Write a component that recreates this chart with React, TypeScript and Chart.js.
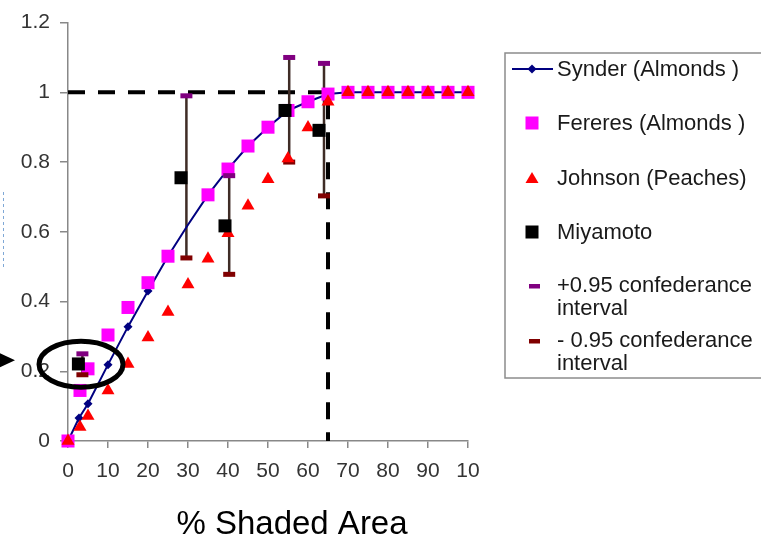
import React, { useEffect, useRef } from "react";
import { Chart, registerables } from "chart.js";

Chart.register(...registerables);

// ---- tick labels ----
const xTickLabels = ["0", "10", "20", "30", "40", "50", "60", "70", "80", "90", "10"];
const yTickLabels = ["0", "0.2", "0.4", "0.6", "0.8", "1", "1.2"];

// ---- series ----
const snyderX = [0, 2.75, 5, 10, 15, 20, 25, 30, 35, 40, 45, 50, 55, 60, 65, 70, 75, 80, 85, 90, 95, 100];
const snyderY = [0, 0.066, 0.107, 0.219, 0.328, 0.43, 0.53, 0.62, 0.706, 0.78, 0.846, 0.9, 0.948, 0.973, 0.995, 1, 1, 1, 1, 1, 1, 1];

const fereresX = [0, 3, 5, 10, 15, 20, 25, 35, 40, 45, 50, 55, 60, 65, 70, 75, 80, 85, 90, 95, 100];
const fereresY = [0, 0.145, 0.207, 0.304, 0.383, 0.454, 0.53, 0.706, 0.78, 0.846, 0.9, 0.948, 0.973, 0.995, 1, 1, 1, 1, 1, 1, 1];

const johnsonX = [0, 3, 5, 10, 15, 20, 25, 30, 35, 40, 45, 50, 55, 60, 65, 70, 75, 80, 85, 90, 95, 100];
const johnsonY = [0, 0.04, 0.072, 0.145, 0.221, 0.297, 0.37, 0.449, 0.523, 0.596, 0.675, 0.751, 0.81, 0.899, 0.973, 1, 1, 1, 1, 1, 1, 1];

const miyamotoX = [2.6, 28.25, 39.25, 54.25, 62.75];
const miyamotoY = [0.221, 0.755, 0.617, 0.948, 0.891];

const ciX = [3.6, 29.6, 40.3, 55.3, 64];
const ciUpper = [0.25, 0.99, 0.761, 1.1, 1.083];
const ciLower = [0.19, 0.525, 0.478, 0.8, 0.703];

const refLineX = [0, 65, 65];
const refLineY = [1, 1, 0];

// highlighted point (ellipse annotation centre)
const highlightX = 3.25;
const highlightY = 0.22;

const FONT = '"Liberation Sans", Arial, Helvetica, sans-serif';

const pts = (xs: number[], ys: (number | null)[]) => xs.map((x, i) => ({ x, y: ys[i] }));

export default function App() {
  const ref = useRef<HTMLCanvasElement>(null);

  useEffect(() => {
    if (!ref.current) return;
    const errorBars: { x: number; y: number | null }[] = [];
    ciX.forEach((x, i) => {
      errorBars.push({ x, y: ciUpper[i] }, { x, y: ciLower[i] }, { x, y: null });
    });

    const overlay = {
      id: "overlay",
      afterDraw(chart: any) {
        const ctx = chart.ctx as CanvasRenderingContext2D;
        const xs = chart.scales.x;
        const ys = chart.scales.y;
        ctx.save();

        // faint remnant of y title
        ctx.strokeStyle = "#7fa8d6";
        ctx.lineWidth = 1;
        ctx.setLineDash([3, 3]);
        ctx.beginPath();
        ctx.moveTo(3.5, 192);
        ctx.lineTo(3.5, 268);
        ctx.stroke();
        ctx.setLineDash([]);

        // ellipse highlight
        const cx = xs.getPixelForValue(highlightX);
        const cy = ys.getPixelForValue(highlightY);
        ctx.strokeStyle = "#000";
        ctx.lineWidth = 5;
        ctx.beginPath();
        ctx.ellipse(cx, cy, 42, 23, 0, 0, Math.PI * 2);
        ctx.stroke();

        // arrow head at left
        ctx.fillStyle = "#000";
        ctx.beginPath();
        ctx.moveTo(cx - 81, cy - 11);
        ctx.lineTo(cx - 66, cy - 4);
        ctx.lineTo(cx - 81, cy + 3);
        ctx.closePath();
        ctx.fill();

        // x axis title
        ctx.fillStyle = "#000";
        ctx.font = `33px ${FONT}`;
        ctx.textAlign = "center";
        ctx.textBaseline = "alphabetic";
        ctx.fillText("% Shaded Area", 292, 534);

        // legend
        const lx = 505, ly = 53, lb = 378;
        ctx.strokeStyle = "#8c8c8c";
        ctx.lineWidth = 1.5;
        ctx.strokeRect(lx, ly, 300, lb - ly);

        ctx.font = `22px ${FONT}`;
        ctx.textAlign = "left";
        ctx.textBaseline = "middle";
        const tx = 557;
        const mx = 532;

        // Synder
        ctx.strokeStyle = "#000080";
        ctx.lineWidth = 2;
        ctx.beginPath();
        ctx.moveTo(512, 69);
        ctx.lineTo(553, 69);
        ctx.stroke();
        ctx.fillStyle = "#000080";
        ctx.beginPath();
        ctx.moveTo(mx, 64.5);
        ctx.lineTo(mx + 4.5, 69);
        ctx.lineTo(mx, 73.5);
        ctx.lineTo(mx - 4.5, 69);
        ctx.closePath();
        ctx.fill();

        // Fereres
        ctx.fillStyle = "#ff00ff";
        ctx.fillRect(mx - 6.5, 123 - 6.5, 13, 13);
        // Johnson
        ctx.fillStyle = "#ff0000";
        ctx.beginPath();
        ctx.moveTo(mx, 172);
        ctx.lineTo(mx + 6.5, 183);
        ctx.lineTo(mx - 6.5, 183);
        ctx.closePath();
        ctx.fill();
        // Miyamoto
        ctx.fillStyle = "#000";
        ctx.fillRect(mx - 6.5, 232 - 6.5, 13, 13);
        // CI dashes
        ctx.fillStyle = "#800080";
        ctx.fillRect(529, 284, 11, 4.5);
        ctx.fillStyle = "#800000";
        ctx.fillRect(529, 339, 11, 4.5);

        ctx.fillStyle = "#1a1a1a";
        ctx.fillText("Synder (Almonds )", tx, 70);
        ctx.fillText("Fereres (Almonds )", tx, 124);
        ctx.fillText("Johnson (Peaches)", tx, 179);
        ctx.fillText("Miyamoto", tx, 233);
        ctx.fillText("+0.95 confederance", tx, 286);
        ctx.fillText("interval", tx, 309);
        ctx.fillText("- 0.95 confederance", tx, 341);
        ctx.fillText("interval", tx, 364);

        ctx.restore();
      },
    };

    const chart = new Chart(ref.current, {
      type: "scatter",
      data: {
        datasets: [
          {
            label: "Miyamoto",
            data: pts(miyamotoX, miyamotoY),
            pointStyle: "rect",
            pointRadius: 9.2,
            backgroundColor: "#000",
            borderColor: "#000",
            borderWidth: 0,
            order: 0,
            clip: false,
          } as any,
          {
            label: "Johnson (Peaches)",
            data: pts(johnsonX, johnsonY),
            pointStyle: "triangle",
            pointRadius: 7.5,
            backgroundColor: "#ff0000",
            borderColor: "#ff0000",
            borderWidth: 0,
            order: 1,
            clip: false,
          },
          {
            label: "+0.95 confederance interval",
            data: pts(ciX, ciUpper),
            pointStyle: "line",
            pointRadius: 6,
            borderColor: "#800080",
            backgroundColor: "#800080",
            pointBorderWidth: 5,
            order: 2,
            clip: false,
          },
          {
            label: "- 0.95 confederance interval",
            data: pts(ciX, ciLower),
            pointStyle: "line",
            pointRadius: 6,
            borderColor: "#800000",
            backgroundColor: "#800000",
            pointBorderWidth: 5,
            order: 2,
            clip: false,
          },
          {
            label: "Fereres (Almonds )",
            data: pts(fereresX, fereresY),
            pointStyle: "rect",
            pointRadius: 9.2,
            backgroundColor: "#ff00ff",
            borderColor: "#ff00ff",
            borderWidth: 0,
            order: 3,
            clip: false,
          },
          {
            label: "Synder (Almonds )",
            data: pts(snyderX, snyderY),
            showLine: true,
            borderColor: "#000080",
            backgroundColor: "#000080",
            borderWidth: 2,
            pointStyle: "rectRot",
            pointRadius: (c: any) => (snyderX[c.dataIndex] === 30 ? 0 : 4.5),
            pointBorderWidth: 0,
            order: 4,
            clip: false,
          },
          {
            label: "error bars",
            data: errorBars,
            showLine: true,
            spanGaps: false,
            borderColor: "#3f2c26",
            borderWidth: 2.5,
            pointRadius: 0,
            order: 5,
            clip: false,
          },
          {
            label: "reference",
            data: pts(refLineX, refLineY),
            showLine: true,
            borderColor: "#000",
            borderWidth: 4,
            borderDash: [17, 13],
            borderCapStyle: "butt",
            pointRadius: 0,
            order: 6,
            clip: false,
          },
        ] as any,
      },
      options: {
        animation: false,
        responsive: false,
        events: [],
        layout: { padding: { left: 0, top: 20, right: 293, bottom: 0 } },
        plugins: { legend: { display: false }, tooltip: { enabled: false } },
        scales: {
          x: {
            type: "linear",
            min: 0,
            max: 100,
            afterFit: (s: any) => {
              s.height = 98;
            },
            ticks: {
              stepSize: 10,
              autoSkip: false,
              maxRotation: 0,
              padding: 11,
              color: "#333",
              font: { family: FONT, size: 21 },
              callback: (v: any) => xTickLabels[Math.round(Number(v) / 10)],
            },
            grid: { drawOnChartArea: false, drawTicks: true, tickLength: 7, color: "#888", lineWidth: 1.5 },
            border: { display: true, color: "#888", width: 1.5 },
          },
          y: {
            type: "linear",
            min: 0,
            max: 1.2,
            afterFit: (s: any) => {
              s.width = 68;
            },
            ticks: {
              stepSize: 0.2,
              padding: 10,
              color: "#333",
              font: { family: FONT, size: 21 },
              callback: (v: any) => yTickLabels[Math.round(Number(v) / 0.2)],
            },
            grid: { drawOnChartArea: false, drawTicks: true, tickLength: 8, color: "#888", lineWidth: 1.5 },
            border: { display: true, color: "#888", width: 1.5 },
          },
        },
      } as any,
      plugins: [overlay],
    });
    return () => chart.destroy();
  }, []);

  return (
    <div style={{ position: "absolute", left: 0, top: 0, width: 761, height: 539, background: "#fff", overflow: "hidden" }}>
      <canvas ref={ref} width={761} height={539} style={{ display: "block", width: 761, height: 539 }} />
    </div>
  );
}
